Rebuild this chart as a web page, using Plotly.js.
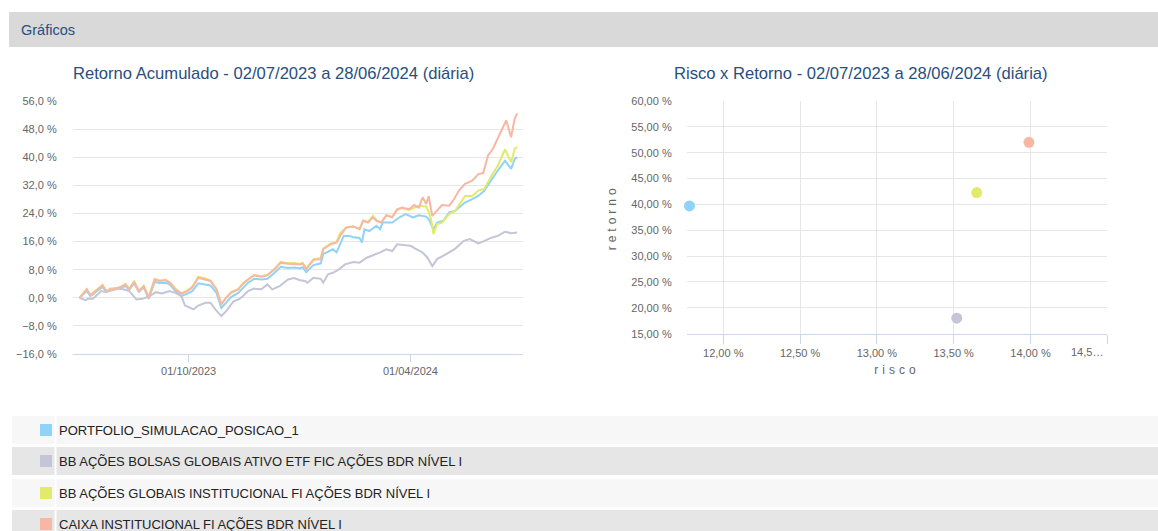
<!DOCTYPE html>
<html>
<head>
<meta charset="utf-8">
<script src="https://cdn.plot.ly/plotly-3.0.1.min.js"></script>
<style>
html,body{margin:0;padding:0;background:#fff;}
#chart{width:1158px;height:531px;}
.ytitle,.y2title,.xtitle,.x2title{letter-spacing:4px;}
</style>
</head>
<body>
<div id="chart"></div>
<script>
// ---------- data ----------
const seriesNames = [
  "PORTFOLIO_SIMULACAO_POSICAO_1",
  "BB AÇÕES BOLSAS GLOBAIS ATIVO ETF FIC AÇÕES BDR NÍVEL I",
  "BB AÇÕES GLOBAIS INSTITUCIONAL FI AÇÕES BDR NÍVEL I",
  "CAIXA INSTITUCIONAL FI AÇÕES BDR NÍVEL I"
];
const seriesColors = ["#8fd3f8", "#c4c5d6", "#e2ea6a", "#f8b7a4"];

const portfolioDates = ["2023-07-03","2023-07-09","2023-07-12","2023-07-16","2023-07-22","2023-07-25","2023-07-31","2023-08-05","2023-08-10","2023-08-13","2023-08-17","2023-08-21","2023-08-25","2023-08-29","2023-09-03","2023-09-07","2023-09-12","2023-09-16","2023-09-20","2023-09-25","2023-09-30","2023-10-04","2023-10-09","2023-10-15","2023-10-19","2023-10-24","2023-10-28","2023-11-01","2023-11-05","2023-11-11","2023-11-15","2023-11-19","2023-11-24","2023-11-30","2023-12-05","2023-12-11","2023-12-16","2023-12-22","2023-12-27","2024-01-01","2024-01-03","2024-01-06","2024-01-12","2024-01-18","2024-01-20","2024-01-28","2024-01-31","2024-02-06","2024-02-11","2024-02-14","2024-02-19","2024-02-21","2024-02-23","2024-02-27","2024-03-04","2024-03-07","2024-03-09","2024-03-17","2024-03-23","2024-03-28","2024-04-03","2024-04-08","2024-04-14","2024-04-16","2024-04-20","2024-04-23","2024-04-28","2024-05-03","2024-05-08","2024-05-16","2024-05-22","2024-05-27","2024-06-01","2024-06-07","2024-06-12","2024-06-18","2024-06-23","2024-06-26","2024-06-28"];
const portfolioValues = [0.0,1.9,0.5,1.6,3.1,1.7,2.2,2.7,3.3,2.2,4.1,1.7,3.0,-0.3,4.5,4.2,4.3,3.6,1.9,0.5,1.2,1.9,4.1,3.8,3.5,1.4,-2.9,-1.4,0.2,1.4,3.0,4.3,5.4,5.2,5.4,7.1,8.8,8.5,8.6,8.4,8.7,7.3,9.3,9.8,12.4,13.8,12.9,17.6,17.6,17.2,17.0,15.7,19.5,19.0,20.5,19.5,21.4,21.4,22.9,23.8,22.9,23.5,23.1,22.4,19.5,21.4,21.9,24.3,24.8,27.1,28.1,29.0,30.5,33.8,36.2,39.0,36.7,39.5,40.0];

const bolsasDates = ["2023-07-03","2023-07-08","2023-07-10","2023-07-14","2023-07-21","2023-07-25","2023-07-28","2023-08-02","2023-08-08","2023-08-13","2023-08-19","2023-08-24","2023-08-30","2023-09-04","2023-09-09","2023-09-15","2023-09-20","2023-09-25","2023-09-28","2023-10-05","2023-10-09","2023-10-15","2023-10-19","2023-10-23","2023-10-28","2023-11-01","2023-11-07","2023-11-11","2023-11-15","2023-11-19","2023-11-24","2023-11-30","2023-12-05","2023-12-09","2023-12-15","2023-12-19","2023-12-22","2023-12-27","2024-01-01","2024-01-05","2024-01-07","2024-01-12","2024-01-18","2024-01-20","2024-01-24","2024-01-28","2024-02-02","2024-02-07","2024-02-14","2024-02-19","2024-02-25","2024-03-01","2024-03-07","2024-03-12","2024-03-17","2024-03-21","2024-03-27","2024-04-01","2024-04-05","2024-04-11","2024-04-15","2024-04-19","2024-04-23","2024-04-28","2024-05-03","2024-05-08","2024-05-15","2024-05-20","2024-05-27","2024-06-01","2024-06-07","2024-06-12","2024-06-18","2024-06-23","2024-06-28"];
const bolsasValues = [0.0,-0.7,-0.3,-0.3,1.9,1.6,2.6,2.7,2.4,1.9,-0.5,-0.3,0.5,1.6,1.2,1.9,1.4,0.5,-2.2,-3.3,-2.2,-1.4,-1.4,-3.3,-5.2,-3.8,-1.0,-0.5,0.5,1.9,2.6,2.4,3.8,2.4,3.3,4.5,5.2,5.6,5.0,4.8,4.3,5.7,5.4,4.3,6.7,7.1,8.1,9.5,10.2,10.0,11.4,12.1,12.9,13.8,13.3,15.2,14.9,14.8,14.0,12.9,11.4,9.0,11.0,11.9,12.9,14.0,16.2,16.7,15.5,16.2,17.1,17.6,18.8,18.4,18.6];

const globaisDates = ["2023-07-03","2023-07-09","2023-07-12","2023-07-16","2023-07-22","2023-07-25","2023-07-31","2023-08-05","2023-08-10","2023-08-13","2023-08-17","2023-08-21","2023-08-25","2023-08-29","2023-09-03","2023-09-07","2023-09-12","2023-09-16","2023-09-20","2023-09-25","2023-09-30","2023-10-04","2023-10-09","2023-10-15","2023-10-19","2023-10-24","2023-10-28","2023-11-01","2023-11-05","2023-11-11","2023-11-15","2023-11-19","2023-11-24","2023-11-30","2023-12-05","2023-12-11","2023-12-16","2023-12-22","2023-12-27","2024-01-01","2024-01-03","2024-01-06","2024-01-12","2024-01-18","2024-01-20","2024-01-26","2024-01-31","2024-02-03","2024-02-08","2024-02-14","2024-02-19","2024-02-22","2024-02-26","2024-03-01","2024-03-04","2024-03-08","2024-03-12","2024-03-17","2024-03-21","2024-03-25","2024-03-31","2024-04-04","2024-04-08","2024-04-14","2024-04-16","2024-04-18","2024-04-20","2024-04-23","2024-04-27","2024-05-03","2024-05-08","2024-05-16","2024-05-22","2024-05-27","2024-06-01","2024-06-07","2024-06-12","2024-06-18","2024-06-23","2024-06-26","2024-06-28"];
const globaisValues = [0.0,2.5,0.8,2.0,3.7,2.0,2.5,3.0,4.0,2.5,4.7,2.0,3.4,0.2,5.4,4.9,5.1,4.3,2.6,1.3,2.1,3.1,6.0,5.5,4.9,2.5,-1.8,0.1,1.6,2.5,4.2,5.3,6.5,6.1,6.5,8.3,10.2,9.8,9.9,9.6,9.9,8.3,11.0,11.3,14.0,15.4,15.9,18.4,20.0,20.3,19.6,22.0,21.6,23.3,22.0,21.5,23.4,23.0,25.0,25.5,25.0,25.6,26.2,26.0,24.5,22.4,18.1,21.0,21.4,23.8,24.8,29.0,29.0,30.5,31.0,34.8,37.6,42.2,38.6,42.4,42.9];

const caixaDates = ["2023-07-03","2023-07-09","2023-07-12","2023-07-16","2023-07-22","2023-07-25","2023-07-31","2023-08-05","2023-08-10","2023-08-13","2023-08-17","2023-08-21","2023-08-25","2023-08-29","2023-09-03","2023-09-07","2023-09-12","2023-09-16","2023-09-20","2023-09-25","2023-09-30","2023-10-04","2023-10-09","2023-10-15","2023-10-19","2023-10-24","2023-10-28","2023-11-01","2023-11-05","2023-11-11","2023-11-15","2023-11-19","2023-11-24","2023-11-30","2023-12-05","2023-12-11","2023-12-16","2023-12-22","2023-12-27","2024-01-01","2024-01-03","2024-01-06","2024-01-12","2024-01-18","2024-01-20","2024-01-26","2024-01-31","2024-02-03","2024-02-08","2024-02-14","2024-02-19","2024-02-22","2024-02-26","2024-03-01","2024-03-04","2024-03-08","2024-03-12","2024-03-17","2024-03-21","2024-03-25","2024-03-31","2024-04-04","2024-04-08","2024-04-11","2024-04-14","2024-04-16","2024-04-19","2024-04-23","2024-04-27","2024-05-03","2024-05-07","2024-05-11","2024-05-16","2024-05-22","2024-05-27","2024-05-31","2024-06-04","2024-06-08","2024-06-14","2024-06-19","2024-06-23","2024-06-26","2024-06-28"];
const caixaValues = [0.0,2.4,0.7,1.9,3.5,1.9,2.4,2.9,3.8,2.4,4.5,1.9,3.3,0.0,5.2,4.8,5.0,4.1,2.4,1.2,1.9,2.9,5.7,5.2,4.8,2.4,-1.9,0.0,1.4,2.4,4.0,5.2,6.4,6.0,6.4,8.1,10.0,9.7,9.6,9.5,9.8,8.1,10.8,11.0,13.8,15.2,15.7,17.6,20.0,20.3,19.5,21.9,21.4,22.9,21.9,21.4,23.5,22.9,25.2,25.7,25.2,26.4,25.7,28.6,26.7,28.9,23.3,24.8,26.4,26.2,28.1,30.5,32.4,33.3,35.2,35.5,40.5,42.4,47.1,50.5,45.7,51.0,52.5];

// risk x return (percent)
const riskValues = [11.78, 13.52, 13.65, 13.99];
const returnValues = [39.7, 18.0, 42.3, 52.0];

// tick labels
const dateTickVals = ["2023-10-01", "2024-04-01"];
const dateTickText = ["01/10/2023", "01/04/2024"];
const riskTickVals = [12.0, 12.5, 13.0, 13.5, 14.0, 14.5];
const riskTickText = ["12,00 %", "12,50 %", "13,00 %", "13,50 %", "14,00 %", "14,5…"];

const headerText = "Gráficos";
const leftTitle = "Retorno Acumulado - 02/07/2023 a 28/06/2024 (diária)";
const rightTitle = "Risco x Retorno - 02/07/2023 a 28/06/2024 (diária)";

// ---------- layout helpers ----------
const W = 1158, H = 531;
const fx = p => p / W;
const fy = p => 1 - p / H;
const FONT = "Liberation Sans, Arial, sans-serif";
const TITLE_COLOR = "#274f7f";
const TICK_FONT = {family: FONT, size: 11, color: "#666666"};

const lineSeries = [
  [portfolioDates, portfolioValues],
  [bolsasDates, bolsasValues],
  [globaisDates, globaisValues],
  [caixaDates, caixaValues]
];

const traces = [];
lineSeries.forEach((s, i) => {
  traces.push({
    type: "scatter", mode: "lines", x: s[0], y: s[1],
    name: seriesNames[i], xaxis: "x", yaxis: "y",
    line: {color: seriesColors[i], width: 2}, hoverinfo: "skip"
  });
});
seriesNames.forEach((n, i) => {
  traces.push({
    type: "scatter", mode: "markers", x: [riskValues[i]], y: [returnValues[i]],
    name: n, xaxis: "x2", yaxis: "y2", cliponaxis: false,
    marker: {color: seriesColors[i], size: 11}, hoverinfo: "skip"
  });
});

const shapes = [];
const annotations = [];

// header band
shapes.push({type: "rect", xref: "paper", yref: "paper", x0: fx(9), x1: fx(1158), y0: fy(47), y1: fy(12),
  fillcolor: "#d9d9d9", line: {width: 0}, layer: "below"});
annotations.push({xref: "paper", yref: "paper", x: fx(19), y: fy(29.5), xanchor: "left", yanchor: "middle",
  text: headerText, showarrow: false, font: {family: FONT, size: 14.5, color: TITLE_COLOR}});

// chart titles
annotations.push({xref: "paper", yref: "paper", x: fx(273.5), y: fy(73.5), xanchor: "center", yanchor: "middle",
  text: leftTitle, showarrow: false, font: {family: FONT, size: 16.6, color: TITLE_COLOR}});
annotations.push({xref: "paper", yref: "paper", x: fx(860.5), y: fy(73.5), xanchor: "center", yanchor: "middle",
  text: rightTitle, showarrow: false, font: {family: FONT, size: 16.6, color: TITLE_COLOR}});

// truncated last risk tick label, drawn inside the plot's right edge
annotations.push({xref: "paper", yref: "paper", x: fx(1087), y: fy(352), xanchor: "center", yanchor: "middle",
  text: riskTickText[riskTickText.length - 1], showarrow: false, font: TICK_FONT});

// legend table
const rowTops = [416, 447, 479, 510];
const rowBottoms = [444, 475, 507, 531];
const rowFill = ["#f7f7f7", "#e6e6e6", "#f7f7f7", "#e6e6e6"];
seriesNames.forEach((n, i) => {
  const t = rowTops[i], b = rowBottoms[i];
  shapes.push({type: "rect", xref: "paper", yref: "paper", x0: fx(12), x1: fx(54.5), y0: fy(b), y1: fy(t),
    fillcolor: rowFill[i], line: {width: 0}, layer: "below"});
  shapes.push({type: "rect", xref: "paper", yref: "paper", x0: fx(56.5), x1: fx(1158), y0: fy(b), y1: fy(t),
    fillcolor: rowFill[i], line: {width: 0}, layer: "below"});
  const cy = t + 14;
  shapes.push({type: "rect", xref: "paper", yref: "paper", x0: fx(40), x1: fx(52), y0: fy(cy + 6), y1: fy(cy - 6),
    fillcolor: seriesColors[i], line: {width: 0}});
  annotations.push({xref: "paper", yref: "paper", x: fx(57), y: fy(cy), xanchor: "left", yanchor: "middle",
    text: n, showarrow: false, font: {family: FONT, size: 13, color: "#222222"}});
});

const layout = {
  width: W, height: H,
  margin: {l: 0, r: 0, t: 0, b: 0},
  paper_bgcolor: "#ffffff", plot_bgcolor: "#ffffff",
  showlegend: false, hovermode: false,
  separators: ", ",
  font: {family: FONT, color: "#666666"},
  xaxis: {
    domain: [fx(72.7), fx(522.7)], anchor: "y", type: "date",
    range: ["2023-06-27 09:00", "2024-07-02 14:00"],
    tickmode: "array", tickvals: dateTickVals, ticktext: dateTickText,
    showgrid: false, zeroline: false, showline: true, linecolor: "#ccd6eb", linewidth: 1,
    ticks: "outside", ticklen: 7, tickcolor: "#ccd6eb", tickfont: TICK_FONT
  },
  yaxis: {
    domain: [fy(354), fy(101)], anchor: "x",
    range: [-16, 56], dtick: 8, tick0: 0, tickformat: ".1f", ticksuffix: " %",
    showgrid: true, gridcolor: "#e6e6e6", zeroline: false, showline: false,
    ticks: "", ticklabelstandoff: 15, tickfont: TICK_FONT
  },
  xaxis2: {
    domain: [fx(686.7), fx(1107.3)], anchor: "y2",
    range: [11.762, 14.5],
    tickmode: "array", tickvals: riskTickVals,
    ticktext: riskTickText.slice(0, -1).concat([""]),
    showgrid: true, gridcolor: "#e6e6e6", zeroline: false, showline: true, linecolor: "#ccd6eb",
    ticks: "outside", ticklen: 9, tickcolor: "#ccd6eb", tickfont: TICK_FONT,
    title: {text: "risco", font: {family: FONT, size: 12, color: "#666666"}, standoff: 7}
  },
  yaxis2: {
    domain: [fy(333.7), fy(101)], anchor: "x2",
    range: [15, 60], dtick: 5, tick0: 0, tickformat: ".2f", ticksuffix: " %",
    showgrid: true, gridcolor: "#e6e6e6", zeroline: false, showline: false,
    ticks: "", ticklabelstandoff: 14, tickfont: TICK_FONT,
    title: {text: "retorno", font: {family: FONT, size: 12, color: "#666666"}, standoff: 12}
  },
  shapes: shapes,
  annotations: annotations
};

Plotly.newPlot("chart", traces, layout, {displayModeBar: false, staticPlot: true});
</script>
</body>
</html>
